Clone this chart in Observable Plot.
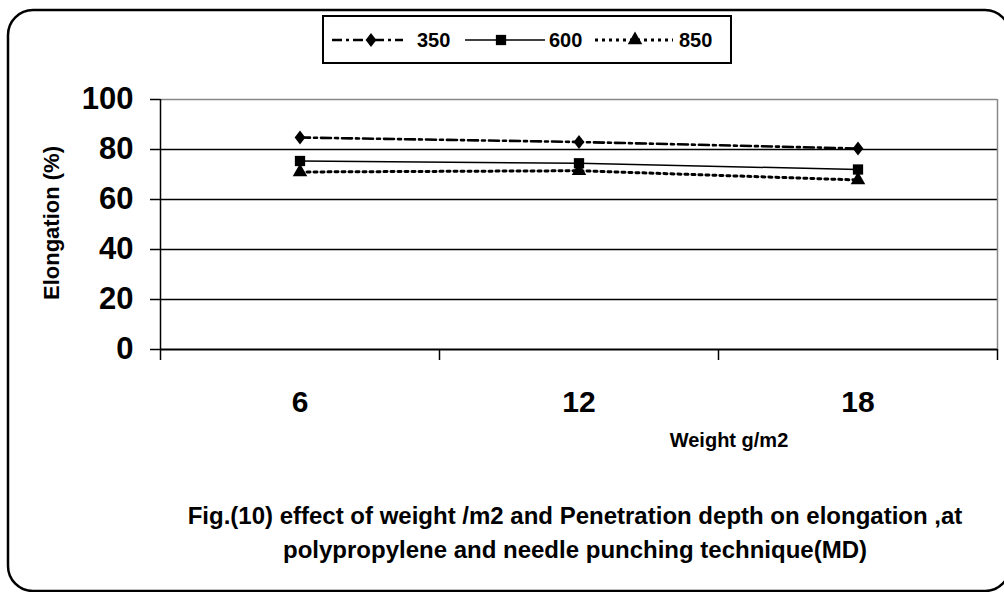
<!DOCTYPE html>
<html><head><meta charset="utf-8">
<script src="https://cdn.jsdelivr.net/npm/d3@7"></script>
<script src="https://cdn.jsdelivr.net/npm/@observablehq/plot@0.6"></script>
<style>
body{margin:0;background:#fff;}
#wrap{position:relative;width:1004px;height:592px;overflow:hidden;background:#fff;}
#wrap svg{position:absolute;left:0;top:0;}
</style></head><body><div id="wrap"></div>
<script>
// ---- data ----
const weights = ["6", "12", "18"];           // x categories (Weight g/m2)
const seriesNames = ["350", "600", "850"];   // penetration depth series
const v350 = [84.8, 83.0, 80.4];
const v600 = [75.4, 74.5, 72.0];
const v850 = [71.0, 71.5, 67.8];
const yTicks = [0, 20, 40, 60, 80, 100];
const yGrid = [20, 40, 60, 80];
const xLabel = "Weight g/m2";
const yLabel = "Elongation (%)";
const captionLines = [
  "Fig.(10) effect of weight /m2 and Penetration depth on elongation ,at",
  "polypropylene and needle punching technique(MD)"
];

const FONT = '"Liberation Sans", Arial, sans-serif';
const seriesValues = {"350": v350, "600": v600, "850": v850};

// rhombus marker (wider than d3's diamond)
const rhombus = {
  draw(ctx, size) {
    const s = Math.sqrt(size);
    const hh = 0.94 * s, hw = 0.72 * s;
    ctx.moveTo(0, -hh); ctx.lineTo(hw, 0); ctx.lineTo(0, hh); ctx.lineTo(-hw, 0); ctx.closePath();
  }
};
const seriesStyle = {
  "350": {dash: "10,4,3,4", width: 2.6, symbol: rhombus, r: 4.2},
  "600": {dash: null, width: 1.5, symbol: d3.symbolSquare, r: 5.8},
  "850": {dash: "3,4", width: 3, symbol: d3.symbolTriangle, r: 5.4}
};

const rows = [];
seriesNames.forEach(s => seriesValues[s].forEach((v, i) =>
  rows.push({series: s, weight: weights[i], xi: i + 0.5, v})));

const marks = [
  Plot.ruleY(yGrid, {stroke: "#000", strokeWidth: 1.6}),
  Plot.ruleY([100], {stroke: "#888", strokeWidth: 1.5}),
  Plot.ruleX([weights.length], {stroke: "#888", strokeWidth: 1.5}),
  Plot.ruleX([0], {stroke: "#000", strokeWidth: 1.5}),
  Plot.ruleY([0], {stroke: "#000", strokeWidth: 2}),
  Plot.axisY({ticks: yTicks, tickSize: 10, tickPadding: 17, fontSize: 31, label: null, strokeWidth: 1.5}),
  Plot.axisX({ticks: d3.range(weights.length + 1), tickSize: 11, tickFormat: () => "", label: null, strokeWidth: 1.5}),
  Plot.axisX({ticks: weights.map((w, i) => i + 0.5), tickSize: 0, tickPadding: 41, fontSize: 30,
              tickFormat: t => weights[Math.floor(t)], label: null})
];
seriesNames.forEach(s => {
  const st = seriesStyle[s];
  const data = rows.filter(r => r.series === s);
  marks.push(Plot.line(data, {x: "xi", y: "v", stroke: "#000", strokeWidth: st.width,
    strokeDasharray: st.dash || undefined}));
  marks.push(Plot.dot(data, {x: "xi", y: "v", symbol: st.symbol, r: st.r, fill: "#000", stroke: "none"}));
});

const chart = Plot.plot({
  width: 1004, height: 592,
  marginLeft: 160, marginRight: 7, marginTop: 99, marginBottom: 243,
  x: {type: "linear", domain: [0, weights.length]},
  y: {domain: [0, 100]},
  style: {fontFamily: FONT, fontWeight: "bold", background: "transparent", color: "#000"},
  marks
});
const wrap = document.getElementById("wrap");
wrap.appendChild(chart);

// ---- overlay: frame, legend, axis titles, caption ----
const ov = d3.select(wrap).append("svg")
  .attr("width", 1004).attr("height", 592)
  .style("font-family", FONT).style("font-weight", "bold");

ov.append("rect").attr("x", 8).attr("y", 10).attr("width", 1002).attr("height", 581)
  .attr("rx", 25).attr("fill", "none").attr("stroke", "#000").attr("stroke-width", 2.5);

// legend
ov.append("rect").attr("x", 323).attr("y", 16).attr("width", 408).attr("height", 47)
  .attr("fill", "#fff").attr("stroke", "#000").attr("stroke-width", 2);
const legPos = [
  {x1: 332, x2: 403, m: 371, t: 417},
  {x1: 465, x2: 545, m: 501, t: 549},
  {x1: 595, x2: 673, m: 635, t: 679}
];
const ly = 40;
seriesNames.forEach((s, i) => {
  const st = seriesStyle[s], p = legPos[i];
  const g = ov.append("g");
  g.append("line").attr("x1", p.x1).attr("x2", p.x2).attr("y1", ly).attr("y2", ly)
    .attr("stroke", "#000").attr("stroke-width", st.width)
    .attr("stroke-dasharray", st.dash);
  g.append("path").attr("transform", `translate(${p.m},${ly})`)
    .attr("d", d3.symbol(st.symbol, st.r * st.r * Math.PI)());
  g.append("text").attr("x", p.t).attr("y", ly).attr("dy", "0.36em")
    .attr("font-size", 20).text(s);
});

ov.append("text").attr("transform", "translate(59,223) rotate(-90)")
  .attr("text-anchor", "middle").attr("font-size", 22).text(yLabel);
ov.append("text").attr("x", 729).attr("y", 447)
  .attr("text-anchor", "middle").attr("font-size", 20).text(xLabel);
captionLines.forEach((l, i) => {
  ov.append("text").attr("x", 575).attr("y", 524 + i * 34)
    .attr("text-anchor", "middle").attr("font-size", 24).text(l);
});
</script>
</body></html>
